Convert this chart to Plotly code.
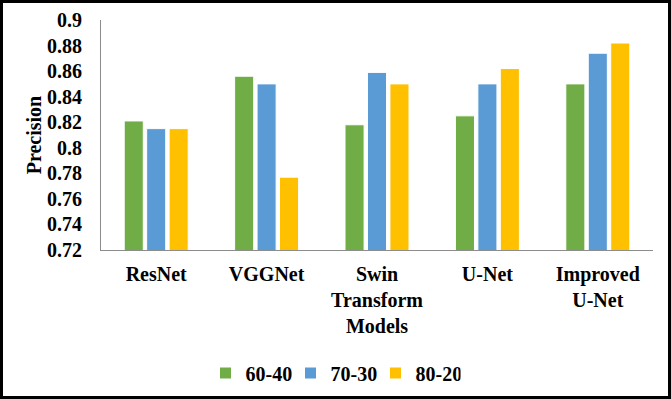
import plotly.graph_objects as go

categories = ["ResNet", "VGGNet", "Swin<br>Transform", "U-Net", "Improved<br>U-Net"]
series_names = ["60-40", "70-30", "80-20"]
s_60_40 = [0.821, 0.856, 0.818, 0.825, 0.850]
s_70_30 = [0.815, 0.850, 0.859, 0.850, 0.874]
s_80_20 = [0.815, 0.777, 0.850, 0.862, 0.882]
colors = ["#70AD47", "#5B9BD5", "#FFC000"]
tick_vals = [0.72, 0.74, 0.76, 0.78, 0.80, 0.82, 0.84, 0.86, 0.88, 0.90]
tick_text = ["0.72", "0.74", "0.76", "0.78", "0.8", "0.82", "0.84", "0.86", "0.88", "0.9"]

FONT = "Liberation Serif"
FS = 20
W, H = 671, 399
ml, mr, mt, mb = 101, 18, 20, 149
pw, ph = W - ml - mr, H - mt - mb

fig = go.Figure()
for name, vals, c in zip(series_names, [s_60_40, s_70_30, s_80_20], colors):
    fig.add_trace(go.Bar(x=categories, y=vals, name=name, marker_color=c,
                         marker_line_color="white", marker_line_width=1))

fig.update_layout(
    width=W, height=H,
    margin=dict(l=ml, r=mr, t=mt, b=mb, autoexpand=False),
    paper_bgcolor="white", plot_bgcolor="white",
    barmode="group", bargap=0.39, bargroupgap=0.15,
    font=dict(family=FONT, size=FS, color="black", weight="bold"),
    legend=dict(orientation="h", x=(333 - ml) / pw, xanchor="center",
                y=-(373 - (mt + ph)) / ph, yanchor="middle",
                font=dict(family=FONT, size=FS, weight="bold"),
                itemwidth=30, entrywidth=40, entrywidthmode="pixels",
                traceorder="normal"),
    showlegend=True,
)
fig.update_yaxes(range=[0.72, 0.9], tickvals=tick_vals, ticktext=tick_text, automargin=False,
                 showgrid=False, zeroline=False, showline=True, linecolor="#8c8c8c",
                 linewidth=1, ticks="", ticklabelstandoff=14,
                 tickfont=dict(family=FONT, size=FS, weight="bold"),
                 title=dict(text="Precision", font=dict(family=FONT, size=FS, weight="bold"),
                            standoff=0))
fig.update_xaxes(showgrid=False, showline=True, linecolor="#8c8c8c", linewidth=1, automargin=False,
                 ticks="", ticklabelstandoff=6, tickfont=dict(family=FONT, size=FS, weight="bold"),
                 title=dict(text="Models", font=dict(family=FONT, size=FS, weight="bold"),
                            standoff=8))

# outer black frame
fig.add_shape(type="rect", xref="paper", yref="paper",
              x0=(1.5 - ml) / pw, x1=1 + (mr - 1.5) / pw,
              y0=-(mb - 1.5) / ph, y1=1 + (mt - 1.5) / ph,
              line=dict(color="black", width=3), fillcolor="rgba(0,0,0,0)", layer="above")

fig.write_html("out.html", config={"displayModeBar": False},
               post_script="document.body.style.margin='0px';")
